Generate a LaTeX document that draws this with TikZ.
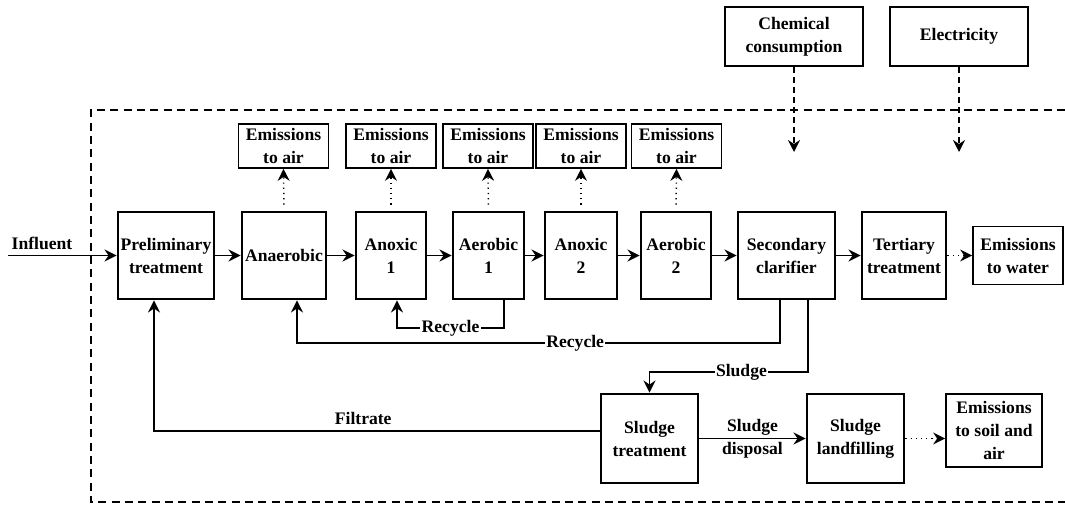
\documentclass[tikz,border=0pt]{standalone}
\usepackage{fontspec}
\setmainfont{Liberation Serif}
\usetikzlibrary{arrows.meta}
\begin{document}
\begin{tikzpicture}[x=0.75pt,y=-0.75pt,
  font=\fontsize{13.2pt}{17.25pt}\selectfont\bfseries,
  unit/.style={draw, line width=2.2pt, inner sep=0pt, align=center, minimum height=65.25pt},
  outbox/.style={draw, line width=1.3pt, inner sep=0pt, align=center},
  tip/.style={-{Stealth[length=9pt,width=9pt,inset=3pt]}},
  flow/.style={line width=1.4pt, tip},
  emis/.style={line width=1.1pt, dash pattern=on 0.9pt off 3pt, tip},
  supply/.style={line width=1.5pt, dash pattern=on 4.5pt off 3pt, tip},
  boundary/.style={line width=2pt, dash pattern=on 6pt off 4pt},
  tag/.style={fill=white, inner sep=1pt}
]
\useasboundingbox (0,0) rectangle (1065,506);

% system boundary
\draw[boundary] (1065,110) -- (91,110) -- (91,502) -- (1065,502);

% main treatment line
\node[unit, minimum width=72pt]    (pre)  at (166,255.5)   {Preliminary\\treatment};
\node[unit, minimum width=63pt]    (ana)  at (284,255.5)   {Anaerobic};
\node[unit, minimum width=52.5pt]  (anx1) at (391,255.5)   {Anoxic\\1};
\node[unit, minimum width=53.25pt] (aer1) at (488.5,255.5) {Aerobic\\1};
\node[unit, minimum width=54pt]    (anx2) at (581,255.5)   {Anoxic\\2};
\node[unit, minimum width=52.5pt]  (aer2) at (676,255.5)   {Aerobic\\2};
\node[unit, minimum width=72.75pt] (sec)  at (786.5,255.5) {Secondary\\clarifier};
\node[unit, minimum width=63pt]    (ter)  at (904,255.5)   {Tertiary\\treatment};
\node[outbox, minimum width=67.5pt, minimum height=43.5pt] (ew) at (1018,255.5) {Emissions\\to water};

% emissions to air
\foreach \n/\x in {ea1/283.5, ea2/391, ea3/488, ea4/581, ea5/676.5}
  \node[outbox, minimum width=67.5pt, minimum height=33pt] (\n) at (\x,146) {Emissions\\to air};

% inputs
\node[outbox, minimum width=103.5pt, minimum height=44.25pt] (chem) at (794,36.5) {Chemical\\consumption};
\node[outbox, minimum width=103.5pt, minimum height=44.25pt] (elec) at (959,36.5) {Electricity};
\coordinate (chemin) at (794,152);
\coordinate (elecin) at (959,152);

% sludge line
\node[unit, minimum width=72.75pt, minimum height=66.75pt] (st) at (649.5,438.5) {Sludge\\treatment};
\node[unit, minimum width=72.75pt, minimum height=66.75pt] (sl) at (855.5,438.5) {Sludge\\landfilling};
\node[outbox, minimum width=72pt, minimum height=54.75pt] (es) at (994,430.5) {Emissions\\to soil and\\air};

% influent
\coordinate (inlet) at (8,255.5);
\node (influent) at (42,243) {Influent};
\draw[flow] (inlet) -- (pre.west);

% forward flow
\draw[flow] (pre.east)  -- (ana.west);
\draw[flow] (ana.east)  -- (anx1.west);
\draw[flow] (anx1.east) -- (aer1.west);
\draw[flow] (aer1.east) -- (anx2.west);
\draw[flow] (anx2.east) -- (aer2.west);
\draw[flow] (aer2.east) -- (sec.west);
\draw[flow] (sec.east)  -- (ter.west);
\draw[emis] (ter.east)  -- (ew.west);

% air emissions from the reactors
\draw[emis, shorten <=4.5pt] (ana.north)  -- (ea1.south);
\draw[emis, shorten <=4.5pt] (anx1.north) -- (ea2.south);
\draw[emis, shorten <=4.5pt] (aer1.north) -- (ea3.south);
\draw[emis, shorten <=4.5pt] (anx2.north) -- (ea4.south);
\draw[emis, shorten <=4.5pt] (aer2.north) -- (ea5.south);

% chemical and electricity inputs
\draw[supply] (chem.south) -- (chemin);
\draw[supply] (elec.south) -- (elecin);

% internal recycle
\coordinate (r1a) at (504,328);
\coordinate (r1b) at (397,328);
\draw[flow] (aer1.south -| r1a) -- (r1a) -- node[tag] {Recycle} (r1b) -- (anx1.south -| r1b);

% return sludge recycle
\coordinate (r2a) at (780,343);
\coordinate (r2b) at (297,343);
\draw[flow] (sec.south -| r2a) -- (r2a) -- node[tag, pos=0.424] {Recycle} (r2b) -- (ana.south -| r2b);

% waste sludge
\coordinate (s1a) at (808,372);
\coordinate (s1b) at (649.5,372);
\draw[flow] (sec.south -| s1a) -- (s1a) -- node[tag, pos=0.42] {Sludge} (s1b) -- (st.north);

% filtrate return
\coordinate (fa) at (601,431);
\coordinate (fb) at (154,431);
\draw[flow] (fa) -- node[inner sep=0pt, pos=0.532, above=4pt] {Filtrate} (fb) -- (pre.south -| fb);

% sludge disposal and landfill emissions
\draw[flow] (st.east) -- node[align=center, inner sep=0pt] {Sludge\\disposal} (sl.west);
\draw[emis] (sl.east) -- (sl.east -| es.west);
\end{tikzpicture}
\end{document}
